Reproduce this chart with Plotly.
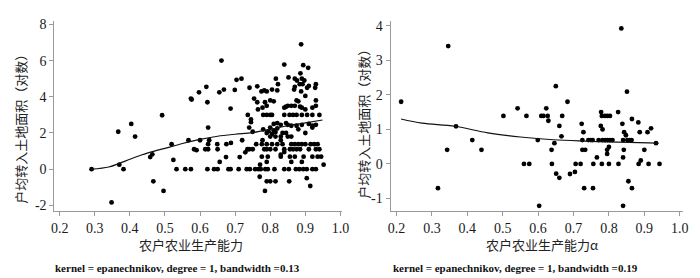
import plotly.graph_objects as go

# ---------------- Left panel data ----------------
left_x = [
    0.291, 0.382, 0.533, 0.558, 0.574, 0.621, 0.640, 0.650, 0.681, 0.687, 0.710, 0.733, 0.742, 0.757,
    0.766, 0.773, 0.786, 0.793, 0.812, 0.840, 0.853, 0.873, 0.883, 0.894, 0.904, 0.920, 0.930,
    0.370, 0.952, 0.771,
    0.656, 0.790, 0.860, 0.890,
    0.458, 0.674, 0.713, 0.776, 0.793, 0.830, 0.856, 0.870, 0.895, 0.920, 0.935, 0.945,
    0.583, 0.590, 0.615, 0.623, 0.650, 0.735, 0.740, 0.750, 0.783, 0.790, 0.800, 0.815, 0.840, 0.856,
    0.865, 0.875, 0.885, 0.910, 0.930, 0.940,
    0.519, 0.623, 0.649, 0.675, 0.688, 0.760, 0.776, 0.790, 0.805, 0.820, 0.835, 0.860, 0.870, 0.880,
    0.890, 0.900, 0.915, 0.925, 0.935,
    0.567, 0.600, 0.626, 0.720, 0.778, 0.830,
    0.415, 0.800, 0.815, 0.830, 0.850, 0.860,
    0.623, 0.740, 0.750, 0.780, 0.790, 0.795, 0.800, 0.805, 0.810, 0.815, 0.820, 0.835, 0.845, 0.880,
    0.900, 0.920, 0.367,
    0.404, 0.745, 0.810, 0.820, 0.830, 0.845, 0.850, 0.860, 0.875, 0.890, 0.910, 0.920, 0.930,
    0.492, 0.736, 0.745, 0.780, 0.790, 0.800, 0.805, 0.840, 0.855, 0.865, 0.875, 0.890, 0.905, 0.920, 0.940,
    0.687, 0.765, 0.778, 0.790, 0.840, 0.845, 0.850, 0.860, 0.870, 0.885, 0.890, 0.900, 0.920, 0.930,
    0.574, 0.576, 0.621, 0.754, 0.763, 0.785, 0.800, 0.810, 0.875, 0.880, 0.900, 0.930,
    0.597, 0.618, 0.655, 0.668, 0.699, 0.741, 0.763, 0.775, 0.783, 0.790, 0.805, 0.820, 0.870, 0.868,
    0.888, 0.910, 0.905, 0.930, 0.928,
    0.704, 0.718, 0.816, 0.822, 0.852, 0.870, 0.876, 0.890, 0.897, 0.884, 0.892,
    0.661, 0.840, 0.886, 0.894, 0.908, 0.888,
    0.348, 0.467, 0.496, 0.770, 0.785, 0.790, 0.800, 0.815, 0.854, 0.904, 0.914,
    0.464, 0.524, 0.729, 0.830, 0.840,
]
left_y = [
    0.0, 0.0, 0.0, 0.0, 0.0, 0.0, 0.0, 0.0, 0.0, 0.0, 0.0, 0.0, 0.0, 0.0,
    0.0, 0.0, 0.0, 0.0, 0.0, 0.0, 0.0, 0.0, 0.0, 0.0, 0.0, 0.0, 0.0,
    0.25, 0.25, 0.25,
    0.4, 0.4, 0.4, 0.4,
    0.67, 0.67, 0.67, 0.69, 0.69, 0.69, 0.69, 0.69, 0.69, 0.69, 0.69, 0.69,
    1.1, 1.05, 1.1, 1.1, 1.1, 1.1, 1.1, 1.1, 1.1, 1.1, 1.1, 1.1, 1.1, 1.1,
    1.1, 1.1, 1.1, 1.1, 1.1, 1.1,
    1.38, 1.38, 1.38, 1.38, 1.45, 1.38, 1.38, 1.38, 1.38, 1.38, 1.38, 1.38, 1.38, 1.38,
    1.38, 1.38, 1.38, 1.38, 1.38,
    1.6, 1.6, 1.6, 1.6, 1.6, 1.6,
    1.8, 1.8, 1.8, 1.8, 1.8, 1.8,
    2.3, 2.3, 2.07, 2.2, 2.0, 2.1, 2.3, 1.95, 2.15, 2.05, 2.25, 2.0, 2.0, 2.2,
    2.0, 2.3, 2.07,
    2.5, 2.6, 2.5, 2.55, 2.45, 2.55, 2.45, 2.4, 2.4, 2.45, 2.5, 2.4, 2.45,
    2.98, 3.0, 2.75, 3.0, 3.0, 3.0, 3.0, 3.0, 3.0, 3.0, 3.0, 3.0, 3.0, 3.0, 3.0,
    3.35, 3.3, 3.4, 3.5, 3.4, 3.45, 3.5, 3.5, 3.5, 3.45, 3.4, 3.3, 3.4, 3.5,
    3.9, 3.85, 3.7, 3.9, 3.7, 3.7, 3.8, 3.75, 3.8, 3.75, 4.05, 3.8,
    4.25, 4.55, 4.25, 4.4, 4.38, 4.5, 4.58, 4.3, 4.35, 4.3, 4.4, 4.35, 4.55, 4.4,
    4.3, 4.6, 4.5, 4.7, 4.5,
    4.94, 5.0, 5.0, 4.7, 5.07, 5.0, 4.9, 5.0, 4.9, 4.7, 4.7,
    6.0, 5.78, 5.3, 5.75, 5.6, 6.9,
    -1.84, -0.67, -1.2, -0.42, -1.2, -0.67, -0.67, -0.67, -0.67, -0.5, -0.93,
    0.82, 0.51, 0.93, 0.8, 0.95,
]
left_fit_x = [0.291, 0.34, 0.37, 0.40, 0.435, 0.47, 0.50, 0.55, 0.60, 0.65, 0.70, 0.75, 0.80, 0.85, 0.90, 0.949]
left_fit_y = [0.0, 0.12, 0.32, 0.55, 0.8, 1.0, 1.15, 1.42, 1.65, 1.82, 1.93, 2.02, 2.2, 2.4, 2.56, 2.72]

# ---------------- Right panel data ----------------
right_x = [
    0.213, 0.346, 0.368, 0.414, 0.502, 0.542, 0.567, 0.317, 0.343, 0.440, 0.560, 0.575, 0.599, 0.603,
    0.609, 0.615, 0.623, 0.627, 0.629, 0.638, 0.639, 0.646, 0.650, 0.651, 0.660, 0.660, 0.666, 0.668,
    0.683, 0.690, 0.704, 0.706, 0.720, 0.723, 0.728, 0.725, 0.725, 0.733, 0.730, 0.742, 0.749, 0.754,
    0.756, 0.755, 0.766, 0.771, 0.778, 0.777, 0.780, 0.782, 0.780, 0.782, 0.789, 0.789, 0.796, 0.796,
    0.803, 0.803, 0.810, 0.795, 0.795, 0.800, 0.800, 0.826, 0.827, 0.835, 0.838, 0.840, 0.843, 0.848,
    0.840, 0.842, 0.840, 0.851, 0.852, 0.858, 0.864, 0.855, 0.865, 0.865, 0.883, 0.887, 0.884, 0.890,
    0.900, 0.909, 0.912, 0.919, 0.933, 0.943,
]
right_y = [
    1.8, 3.41, 1.09, 0.69, 1.39, 1.61, 1.39, -0.7, 0.41, 0.41, 0.0, 0.0, 0.69, -1.21,
    1.39, 1.39, 1.61, 1.39, 1.25, 0.41, 0.0, 0.6, 2.25, -0.28, 1.1, -0.4, 0.8, 1.39,
    1.8, -0.29, -0.23, 0.0, 0.0, 1.16, 0.92, 0.69, 0.41, 0.41, -0.7, 0.69, 0.69, 0.69,
    0.0, -0.7, 0.19, 0.69, 1.5, 1.1, 1.39, 1.0, 0.0, 0.69, 1.39, 0.69, 1.39, 0.69,
    1.39, 0.69, 0.69, 0.29, 0.41, 0.49, 0.0, 1.5, 0.0, 3.92, 1.16, 0.69, 0.92, 0.83,
    0.19, 0.41, -1.21, 2.09, 0.69, 0.69, 0.69, -0.5, 1.3, -0.7, 1.2, 0.92, 0.0, 0.1,
    0.41, 0.92, 0.0, 1.03, 0.6, 0.0,
]
right_fit_x = [0.213, 0.272, 0.365, 0.458, 0.55, 0.643, 0.736, 0.828, 0.94]
right_fit_y = [1.3, 1.18, 1.09, 0.9, 0.78, 0.7, 0.66, 0.63, 0.6]

x_ticks = [0.2, 0.3, 0.4, 0.5, 0.6, 0.7, 0.8, 0.9, 1.0]
x_ticktext = ["0.2", "0.3", "0.4", "0.5", "0.6", "0.7", "0.8", "0.9", "1.0"]
left_yticks = [-2, 0, 2, 4, 6, 8]
left_yticktext = ["-2", "0", "2", "4", "6", "8"]
right_yticks = [-1, 0, 1, 2, 3, 4]
right_yticktext = ["-1", "0", "1", "2", "3", "4"]

x_title_left = "农户农业生产能力"
x_title_right = "农户农业生产能力α"
y_title = "户均转入土地面积（对数）"
caption_left = "kernel = epanechnikov, degree = 1, bandwidth =0.13"
caption_right = "kernel = epanechnikov, degree = 1, bandwidth =0.19"

W, H = 700, 278
SERIF = "Liberation Serif, Times New Roman, serif"
CJK = "Noto Sans CJK SC"

fig = go.Figure()
marker = dict(color="#000000", size=4.8, line=dict(width=0))
fig.add_trace(go.Scatter(x=left_x, y=left_y, mode="markers", marker=marker,
                         xaxis="x", yaxis="y", showlegend=False))
fig.add_trace(go.Scatter(x=left_fit_x, y=left_fit_y, mode="lines", line=dict(color="#111", width=1.2, shape="spline"),
                         xaxis="x", yaxis="y", showlegend=False))
fig.add_trace(go.Scatter(x=right_x, y=right_y, mode="markers", marker=marker,
                         xaxis="x2", yaxis="y2", showlegend=False))
fig.add_trace(go.Scatter(x=right_fit_x, y=right_fit_y, mode="lines", line=dict(color="#111", width=1.2, shape="spline"),
                         xaxis="x2", yaxis="y2", showlegend=False))

axis_common = dict(showline=True, linecolor="#9a9a9a", linewidth=1, ticks="outside", ticklen=4,
                   tickcolor="#9a9a9a", tickwidth=1, showgrid=False, zeroline=False,
                   tickfont=dict(family=SERIF, size=14, color="#1a1a1a"))

ydom = [1 - 204 / H, 1 - 10 / H]
fig.update_layout(
    width=W, height=H,
    margin=dict(l=0, r=0, t=0, b=0),
    paper_bgcolor="white", plot_bgcolor="white",
    xaxis=dict(domain=[44 / W, 336 / W], range=[0.185, 1.005], tickvals=x_ticks,
               ticktext=x_ticktext, anchor="y", **axis_common),
    yaxis=dict(domain=ydom, range=[-2.33, 8.2], tickvals=left_yticks, ticktext=left_yticktext,
               anchor="x", **axis_common),
    xaxis2=dict(domain=[385 / W, 682 / W], range=[0.183, 1.01], tickvals=x_ticks,
                ticktext=x_ticktext, anchor="y2", **axis_common),
    yaxis2=dict(domain=ydom, range=[-1.37, 4.14], tickvals=right_yticks, ticktext=right_yticktext,
                anchor="x2", **axis_common),
)

ann = []
ann.append(dict(text=x_title_left, x=183 / W, y=1 - 238 / H, xref="paper", yref="paper",
                showarrow=False, font=dict(family=CJK, size=13, color="#222"), xanchor="center", yanchor="middle"))
ann.append(dict(text=x_title_right, x=539 / W, y=1 - 238 / H, xref="paper", yref="paper",
                showarrow=False, font=dict(family=CJK, size=13, color="#222"), xanchor="center", yanchor="middle"))
ann.append(dict(text=y_title, x=10 / W, y=1 - 117 / H, xref="paper", yref="paper", textangle=-90,
                showarrow=False, font=dict(family=CJK, size=13, color="#222"), xanchor="center", yanchor="middle"))
ann.append(dict(text=y_title, x=358 / W, y=1 - 112 / H, xref="paper", yref="paper", textangle=-90,
                showarrow=False, font=dict(family=CJK, size=13, color="#222"), xanchor="center", yanchor="middle"))
ann.append(dict(text="<b>" + caption_left + "</b>", x=43 / W, y=1 - 262 / H, xref="paper", yref="paper",
                showarrow=False, font=dict(family=SERIF, size=11, color="#111"), xanchor="left", yanchor="middle"))
ann.append(dict(text="<b>" + caption_right + "</b>", x=386 / W, y=1 - 262 / H, xref="paper", yref="paper",
                showarrow=False, font=dict(family=SERIF, size=11, color="#111"), xanchor="left", yanchor="middle"))
fig.update_layout(annotations=ann)

fig.write_html("out.html")
